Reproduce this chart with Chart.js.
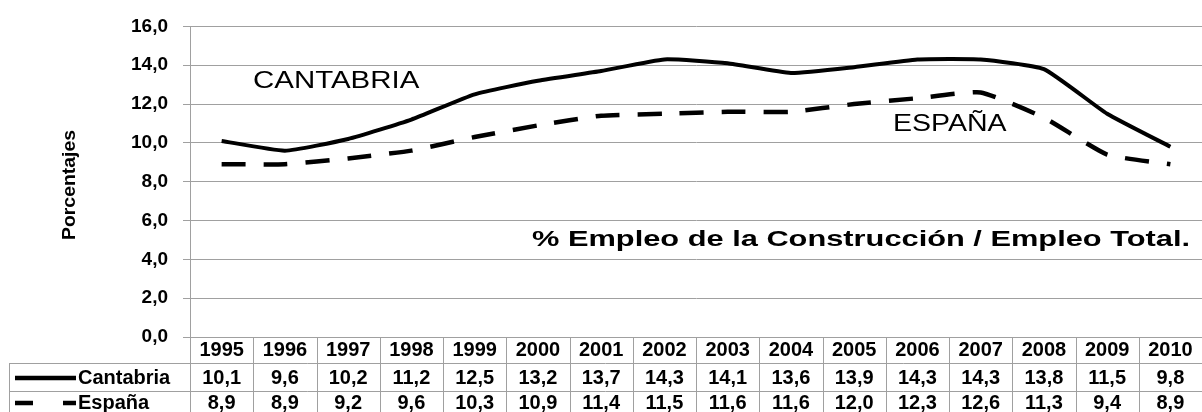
<!DOCTYPE html>
<html>
<head>
<meta charset="utf-8">
<script src="https://cdn.jsdelivr.net/npm/chart.js@4/dist/chart.umd.min.js"></script>
<style>
  html, body { margin: 0; padding: 0; background: #fff; }
  canvas { display: block; }
</style>
</head>
<body>
<canvas id="lineChartEmpleo" width="1202" height="412"></canvas>
<script>
const years = ['1995', '1996', '1997', '1998', '1999', '2000', '2001', '2002',
  '2003', '2004', '2005', '2006', '2007', '2008', '2009', '2010'];
const cantabria = [10.1, 9.6, 10.2, 11.2, 12.5, 13.2, 13.7, 14.3, 14.1, 13.6, 13.9, 14.3, 14.3, 13.8, 11.5, 9.8];
const espana = [8.9, 8.9, 9.2, 9.6, 10.3, 10.9, 11.4, 11.5, 11.6, 11.6, 12.0, 12.3, 12.6, 11.3, 9.4, 8.9];
const seriesNames = ['Cantabria', 'España'];
const espanaDash = [24, 18];

const FONT = '"Liberation Sans", Arial, sans-serif';
const GRID = '#a0a0a0';

function fmt(v) {
  return Number(v).toFixed(1).replace('.', ',');
}

// text widened horizontally like the original picture
function wideText(ctx, text, x, y, font, sx) {
  ctx.save();
  ctx.font = font;
  ctx.fillStyle = '#000';
  ctx.textAlign = 'left';
  ctx.textBaseline = 'middle';
  ctx.translate(x, y);
  ctx.scale(sx, 1);
  ctx.fillText(text, 0, 0);
  ctx.restore();
}

function fitText(ctx, text, x, y, font, width) {
  ctx.save();
  ctx.font = font;
  const w = ctx.measureText(text).width;
  ctx.restore();
  wideText(ctx, text, x, y, font, width / w);
}

const tablePlugin = {
  id: 'tablePlugin',
  afterDraw(chart) {
    const ctx = chart.ctx;
    const area = chart.chartArea;
    const x = chart.scales.x;
    const colW = x.getPixelForValue(1) - x.getPixelForValue(0);
    const top = area.bottom;
    const bottom = chart.height;
    const row1 = top + 26;
    const row2 = top + 54;
    const tableLeft = 9;

    ctx.save();
    ctx.strokeStyle = GRID;
    ctx.lineWidth = 1;
    ctx.beginPath();
    for (let i = 0; i <= years.length; i++) {
      const px = Math.round(x.getPixelForValue(i) - colW / 2) + 0.5;
      ctx.moveTo(px, top);
      ctx.lineTo(px, bottom);
    }
    ctx.moveTo(tableLeft + 0.5, row1);
    ctx.lineTo(tableLeft + 0.5, bottom);
    ctx.moveTo(tableLeft, row1 + 0.5);
    ctx.lineTo(area.right, row1 + 0.5);
    ctx.moveTo(tableLeft, row2 + 0.5);
    ctx.lineTo(area.right, row2 + 0.5);
    ctx.stroke();

    // values
    ctx.fillStyle = '#000';
    ctx.font = 'bold 20px ' + FONT;
    ctx.textAlign = 'center';
    ctx.textBaseline = 'middle';
    const rows = [cantabria, espana];
    const rowY = [(row1 + row2) / 2 + 1, row2 + 12];
    rows.forEach((vals, r) => {
      vals.forEach((v, i) => {
        ctx.fillText(fmt(v), x.getPixelForValue(i), rowY[r]);
      });
    });

    // row labels with line keys
    ctx.textAlign = 'left';
    seriesNames.forEach((name, r) => {
      ctx.fillText(name, 78, rowY[r]);
    });
    ctx.strokeStyle = '#000';
    ctx.lineWidth = 4.5;
    ctx.beginPath();
    ctx.moveTo(15, rowY[0]);
    ctx.lineTo(76, rowY[0]);
    ctx.stroke();
    ctx.setLineDash([18, 30]);
    ctx.beginPath();
    ctx.moveTo(15, rowY[1]);
    ctx.lineTo(76, rowY[1]);
    ctx.stroke();
    ctx.restore();

    // notes inside the plot
    wideText(ctx, 'CANTABRIA', 253, 82, '23px ' + FONT, 1.28);
    wideText(ctx, 'ESPAÑA', 893, 125, '23px ' + FONT, 1.24);
    fitText(ctx, '% Empleo de la Construcción / Empleo Total.', 532, 240, 'bold 22px ' + FONT, 658);

    // axis title
    ctx.save();
    ctx.translate(70, 185);
    ctx.rotate(-Math.PI / 2);
    fitText(ctx, 'Porcentajes', -55, 0, 'bold 19px ' + FONT, 110);
    ctx.restore();
  }
};

const data = {
  labels: years,
  datasets: [{
      label: seriesNames[0],
      data: cantabria,
      borderColor: '#000',
      borderWidth: 4,
      tension: 0.15
    },
    {
      label: seriesNames[1],
      data: espana,
      borderColor: '#000',
      borderWidth: 4.5,
      borderDash: espanaDash,
      tension: 0.15
    }]
};

const config = {
  type: 'line',
  data: data,
  options: {
    responsive: false,
    animation: false,
    layout: {
      padding: { top: 22, right: 0, bottom: 0, left: 0 }
    },
    elements: {
      point: { radius: 0 },
      line: { borderJoinStyle: 'round' }
    },
    scales: {
      x: {
        offset: true,
        grid: { display: false, drawTicks: false },
        border: { display: false },
        ticks: {
          color: '#000',
          font: { family: FONT, size: 20, weight: 'bold' },
          padding: 1,
          maxRotation: 0,
          autoSkip: false
        },
        afterFit(scale) { scale.height = 75; }
      },
      y: {
        min: 0,
        max: 16,
        grid: { color: GRID, tickLength: 7 },
        border: { color: GRID },
        ticks: {
          stepSize: 2,
          color: '#000',
          font: { family: FONT, size: 19, weight: 'bold' },
          padding: 15,
          callback: (v) => fmt(v)
        },
        afterFit(scale) { scale.width = 190; }
      }
    },
    plugins: {
      legend: { display: false },
      tooltip: { enabled: false }
    }
  },
  plugins: [tablePlugin]
};

const myChart = new Chart(
  document.getElementById('lineChartEmpleo'),
  config
);
</script>
</body>
</html>
